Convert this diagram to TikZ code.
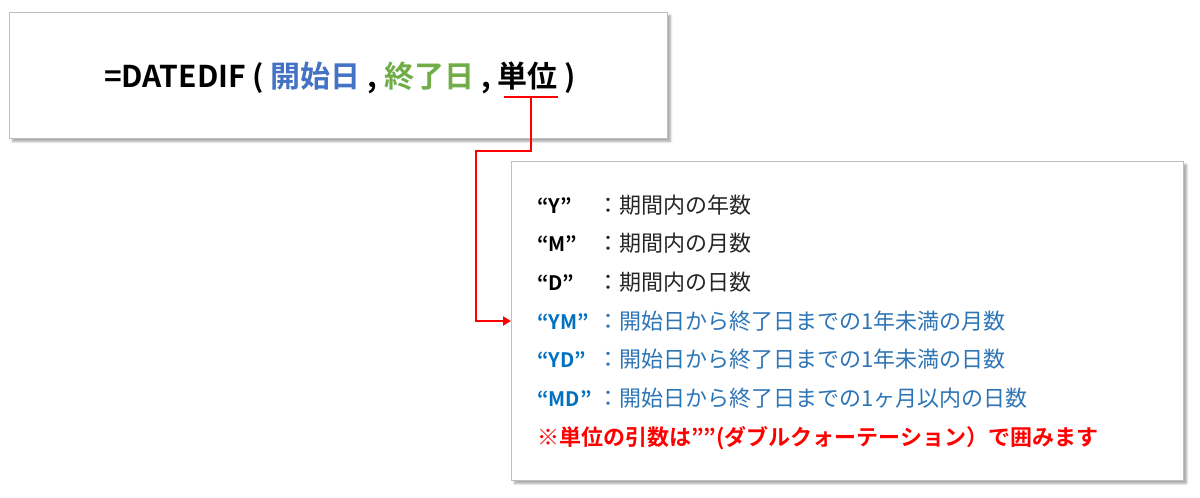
\documentclass[tikz,border=0pt]{standalone}
\usepackage{fontspec}
\setmainfont{Noto Sans CJK JP}
\newfontfamily\jpb{Noto Sans CJK JP Bold}
\usetikzlibrary{shadows.blur,arrows.meta}
\definecolor{cblue}{HTML}{4472C4}
\definecolor{cgreen}{HTML}{70AD47}
\definecolor{lblue}{HTML}{2E75B6}
\definecolor{qblue}{HTML}{0070C0}
\definecolor{tgray}{HTML}{262626}
\tikzset{
  panel/.style={draw=black!25, line width=1pt, fill=white, blur shadow={shadow xshift=3pt, shadow yshift=-3pt, shadow blur steps=6, shadow opacity=35}},
  lbl/.style={anchor=base west, inner sep=0pt, font=\jpb\fontsize{20}{20}\selectfont},
  dsc/.style={anchor=base west, inner sep=0pt, font=\fontsize{22}{22}\selectfont},
  conn/.style={draw=red, line width=2pt}
}
\begin{document}
\begin{tikzpicture}[x=1pt,y=-1pt]
\useasboundingbox (0,0) rectangle (1200,498);
\node[panel, minimum width=658, minimum height=126, anchor=north west] (top) at (9,12) {};
\node[panel, minimum width=672, minimum height=319, anchor=north west] (bot) at (511,161) {};
\node[anchor=base, inner sep=0pt, font=\jpb\fontsize{30}{30}\selectfont] (f) at (340,87)
 {=DATEDIF ( \textcolor{cblue}{開始日} , \textcolor{cgreen}{終了日} , 単位 )};
\coordinate (ua) at (504,97);
\coordinate (ub) at (558,97);
\draw[conn] (ua) -- (ub);
\coordinate (um) at (531,97);
\coordinate (tgt) at (511,321);
\draw[conn, -{Triangle[length=8pt,width=9pt]}] (um) |- (476,151) |- (tgt);
\foreach \y/\l/\d in {213/“Y”/年数, 251/“M”/月数, 290/“D”/日数}{
  \node[lbl] at (537,\y) {\l};
  \node[dsc, text=tgray] at (597,\y) {：期間内の\d};
}
\node[lbl, text=qblue] (ym) at (537,329) {“YM”};
\node[dsc, text=lblue] at (597,329) {：開始日から終了日までの1年未満の月数};
\node[lbl, text=qblue] (yd) at (537,367) {“YD”};
\node[dsc, text=lblue] at (597,367) {：開始日から終了日までの1年未満の日数};
\node[lbl, text=qblue] (md) at (537,406) {“MD”};
\node[dsc, text=lblue] at (597,406) {：開始日から終了日までの1ヶ月以内の日数};
\node[lbl, text=red, font=\jpb\fontsize{22}{22}\selectfont] (note) at (537,445) {※単位の引数は””(ダブルクォーテーション）で囲みます};
\end{tikzpicture}
\end{document}
